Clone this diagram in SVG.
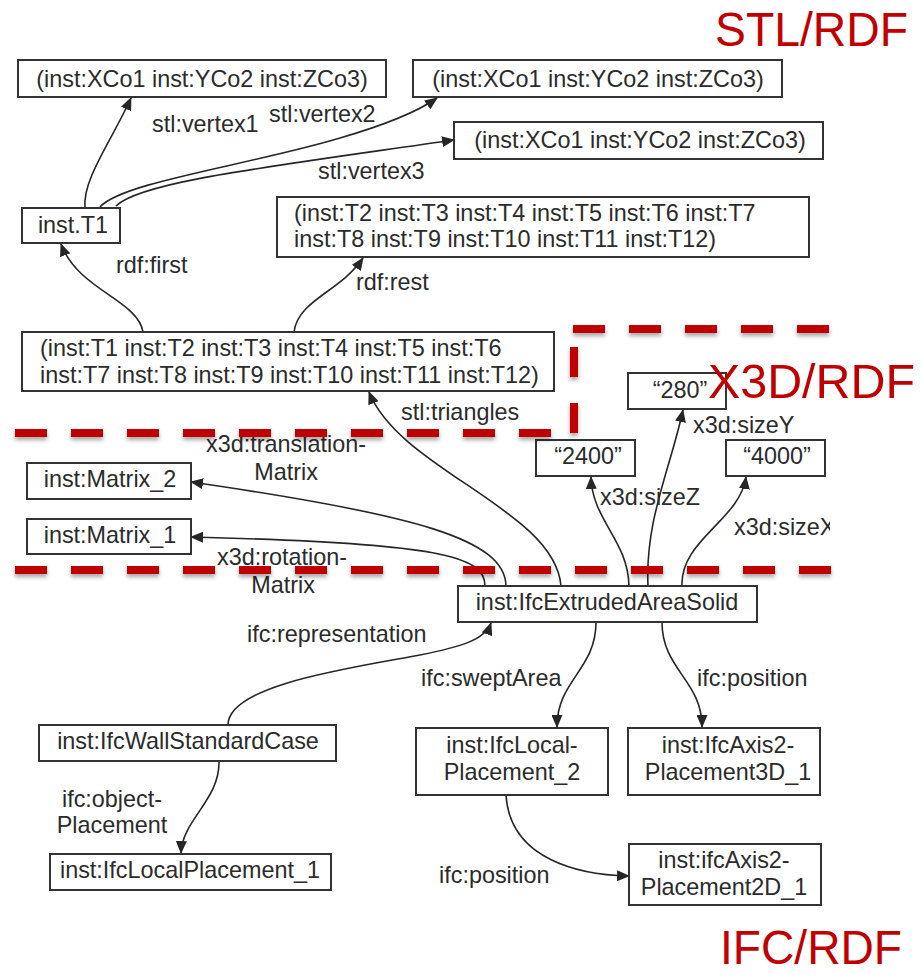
<svg xmlns="http://www.w3.org/2000/svg" width="922" height="975" viewBox="0 0 922 975">
  <style>
    .box { fill: #fff; stroke: #333; stroke-width: 2; }
    .t { font-family: "Liberation Sans", Arial, sans-serif; font-size: 23.4px; fill: #2b2b2b; }
    .c { text-anchor: middle; }
    .edge { fill: none; stroke: #262626; stroke-width: 1.6; marker-end: url(#arrow); }
    .zone { stroke: #c00000; stroke-width: 8; stroke-dasharray: 32 24; fill: none; }
    .title { font-family: "Liberation Sans", Arial, sans-serif; fill: #c00000; }
  </style>
  <defs>
    <marker id="arrow" markerUnits="userSpaceOnUse" markerWidth="13" markerHeight="11" refX="12" refY="5.5" orient="auto">
      <path d="M0,0 L13,5.5 L0,11 z" fill="#262626"/>
    </marker>
    <filter id="shadow" x="-5%" y="-50%" width="110%" height="300%">
      <feDropShadow dx="0" dy="3" stdDeviation="2" flood-color="#000" flood-opacity="0.35"/>
    </filter>
    <clipPath id="clipRight">
      <rect x="0" y="0" width="830" height="975"/>
    </clipPath>
  </defs>

  <rect width="922" height="975" fill="#fff"/>

  <!-- connectors -->
  <g id="connectors">
    <path class="edge" d="M85,208 C 82,180 112,140 131,98"/>
    <path class="edge" d="M100,207 C 122,182 250,165 340,138 C 395,122 420,110 437,98"/>
    <path class="edge" d="M116,206 C 140,182 260,168 454,140"/>
    <path class="edge" d="M143,332 C 138,300 78,290 61,244"/>
    <path class="edge" d="M294,332 C 298,300 340,292 363,258"/>
    <path class="edge" d="M561,586 C 555,510 400,470 369,392"/>
    <path class="edge" d="M506,586 C 505,540 420,515 191,482"/>
    <path class="edge" d="M485,586 C 485,556 440,543 191,537"/>
    <path class="edge" d="M629,586 C 628,540 592,520 591,477"/>
    <path class="edge" d="M648,586 C 645,520 670,470 683,410"/>
    <path class="edge" d="M682,586 C 680,540 740,520 746,477"/>
    <path class="edge" d="M228,725 C 228,685 350,668 420,655 C 460,647 485,640 491,623"/>
    <path class="edge" d="M596,622 C 596,670 557,680 557,727"/>
    <path class="edge" d="M662,622 C 662,670 702,680 702,727"/>
    <path class="edge" d="M506,795 C 510,860 580,875 629,876"/>
    <path class="edge" d="M219,761 C 220,800 182,820 181,853"/>
  </g>

  <!-- edge labels -->
  <g id="edge-labels" class="t">
    <text x="152" y="132">stl:vertex1</text>
    <text x="269" y="122">stl:vertex2</text>
    <text x="318" y="179">stl:vertex3</text>
    <text x="116" y="273">rdf:first</text>
    <text x="356" y="290">rdf:rest</text>
    <text x="401" y="420">stl:triangles</text>
    <text class="c" x="286" y="452">x3d:translation-</text>
    <text class="c" x="286" y="480">Matrix</text>
    <text class="c" x="282" y="565">x3d:rotation-</text>
    <text class="c" x="283" y="593">Matrix</text>
    <text x="693" y="433">x3d:sizeY</text>
    <text x="600" y="505">x3d:sizeZ</text>
    <text x="734" y="535" clip-path="url(#clipRight)">x3d:sizeX</text>
    <text x="247" y="642">ifc:representation</text>
    <text x="421" y="686">ifc:sweptArea</text>
    <text x="697" y="686">ifc:position</text>
    <text x="439" y="883">ifc:position</text>
    <text class="c" x="112" y="807">ifc:object-</text>
    <text class="c" x="112" y="833">Placement</text>
  </g>

  <!-- nodes -->
  <g id="n-vertex1">
    <rect class="box" x="18" y="60" width="368" height="37"/>
    <text class="t c" x="202" y="87">(inst:XCo1 inst:YCo2 inst:ZCo3)</text>
  </g>
  <g id="n-vertex2">
    <rect class="box" x="413" y="60" width="369" height="37"/>
    <text class="t c" x="598" y="87">(inst:XCo1 inst:YCo2 inst:ZCo3)</text>
  </g>
  <g id="n-vertex3">
    <rect class="box" x="454" y="122" width="369" height="37"/>
    <text class="t c" x="640" y="148">(inst:XCo1 inst:YCo2 inst:ZCo3)</text>
  </g>
  <g id="n-t1">
    <rect class="box" x="22" y="208" width="98" height="35"/>
    <text class="t c" x="73" y="233">inst.T1</text>
  </g>
  <g id="n-rest">
    <rect class="box" x="277" y="197" width="532" height="60"/>
    <text class="t" x="294" y="221">(inst:T2 inst:T3 inst:T4 inst:T5 inst:T6 inst:T7</text>
    <text class="t" x="294" y="247">inst:T8 inst:T9 inst:T10 inst:T11 inst:T12)</text>
  </g>
  <g id="n-list">
    <rect class="box" x="22" y="332" width="532" height="59"/>
    <text class="t" x="40" y="356">(inst:T1 inst:T2 inst:T3 inst:T4 inst:T5 inst:T6</text>
    <text class="t" x="40" y="383">inst:T7 inst:T8 inst:T9 inst:T10 inst:T11 inst:T12)</text>
  </g>
  <g id="n-280">
    <rect class="box" x="628" y="373" width="98" height="36"/>
    <text class="t c" x="680" y="398">“280”</text>
  </g>
  <g id="n-2400">
    <rect class="box" x="536" y="440" width="99" height="36"/>
    <text class="t c" x="588" y="464">“2400”</text>
  </g>
  <g id="n-4000">
    <rect class="box" x="726" y="440" width="99" height="36"/>
    <text class="t c" x="777" y="464">“4000”</text>
  </g>
  <g id="n-matrix2">
    <rect class="box" x="27" y="463" width="164" height="36"/>
    <text class="t c" x="110" y="487">inst:Matrix_2</text>
  </g>
  <g id="n-matrix1">
    <rect class="box" x="27" y="519" width="164" height="35"/>
    <text class="t c" x="110" y="543">inst:Matrix_1</text>
  </g>
  <g id="n-extruded">
    <rect class="box" x="458" y="586" width="299" height="36"/>
    <text class="t c" x="607" y="610">inst:IfcExtrudedAreaSolid</text>
  </g>
  <g id="n-wall">
    <rect class="box" x="39" y="725" width="297" height="36"/>
    <text class="t c" x="188" y="749">inst:IfcWallStandardCase</text>
  </g>
  <g id="n-localplacement1">
    <rect class="box" x="50" y="854" width="281" height="36"/>
    <text class="t c" x="190" y="878">inst:IfcLocalPlacement_1</text>
  </g>
  <g id="n-localplacement2">
    <rect class="box" x="416" y="728" width="192" height="67"/>
    <text class="t c" x="512" y="753">inst:IfcLocal-</text>
    <text class="t c" x="512" y="780">Placement_2</text>
  </g>
  <g id="n-axis3d">
    <rect class="box" x="628" y="728" width="192" height="67"/>
    <text class="t c" x="728" y="753">inst:IfcAxis2-</text>
    <text class="t c" x="728" y="780">Placement3D_1</text>
  </g>
  <g id="n-axis2d">
    <rect class="box" x="629" y="844" width="192" height="61"/>
    <text class="t c" x="724" y="868">inst:ifcAxis2-</text>
    <text class="t c" x="724" y="895">Placement2D_1</text>
  </g>

  <!-- zone boundaries -->
  <g id="zones" filter="url(#shadow)">
    <line class="zone" x1="15" y1="433" x2="575" y2="433"/>
    <line class="zone" x1="574" y1="433" x2="574" y2="340" style="stroke-dasharray:30 26"/>
    <line class="zone" x1="573" y1="329" x2="831" y2="329"/>
    <line class="zone" x1="15" y1="570" x2="831" y2="570"/>
  </g>

  <!-- zone titles -->
  <g id="titles" class="title">
    <text x="715" y="46" font-size="48" textLength="193" lengthAdjust="spacingAndGlyphs">STL/RDF</text>
    <text x="708" y="398" font-size="49" textLength="207" lengthAdjust="spacingAndGlyphs">X3D/RDF</text>
    <text x="720" y="964" font-size="48" textLength="182" lengthAdjust="spacingAndGlyphs">IFC/RDF</text>
  </g>
</svg>
